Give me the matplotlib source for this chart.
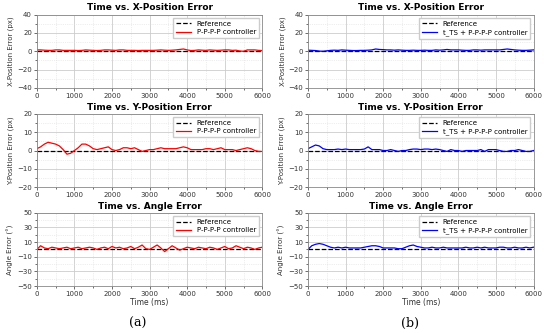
import numpy as np
import matplotlib.pyplot as plt
from matplotlib.ticker import MultipleLocator, AutoMinorLocator

# time axis (ms)
time_ms = np.arange(0, 6001, 100)

# (a) P-P-P-P controller
ppp_x = [1.5, 1.5, 1.2, 1.0, 1.0, 1.5, 1.5, 1.0, 1.0, 1.0,
         1.0, 0.8, 1.0, 1.5, 1.2, 1.0, 0.8, 1.0, 1.5, 1.5,
         1.2, 1.0, 1.5, 1.5, 1.0, 1.0, 1.0, 0.8, 1.0, 1.0,
         1.0, 1.0, 1.2, 1.5, 1.2, 1.0, 1.2, 1.5, 2.0, 2.5,
         1.5, 0.8, 1.0, 1.5, 1.2, 1.0, 1.5, 1.2, 1.0, 1.2,
         1.5, 1.5, 1.0, 1.2, 0.3, 0.0, 1.5, 1.5, 1.5, 1.0,
         0.8]
ppp_y = [1.0, 2.0, 3.5, 4.5, 4.0, 3.5, 2.5, 0.5, -2.0, -1.5,
         0.0, 1.5, 3.5, 3.5, 2.5, 1.0, 0.5, 1.0, 1.5, 2.0,
         0.5, 0.0, 0.5, 1.5, 1.5, 1.0, 1.5, 0.5, -0.5, 0.0,
         0.5, 0.5, 1.0, 1.5, 1.0, 1.0, 1.0, 1.0, 1.5, 2.0,
         1.5, 0.5, 0.5, 0.5, 0.5, 1.0, 1.0, 0.5, 1.0, 1.5,
         0.5, 0.5, 0.5, 0.0, 0.5, 1.0, 1.5, 1.0, 0.0, -0.5,
         -0.5]
ppp_ang = [0, 5, 2, 1, 3, 2, 1, 2, 3, 1,
           2, 3, 1, 2, 3, 2, 0, 2, 3, 1,
           4, 2, 3, 1, 2, 4, 1, 3, 6, 1,
           0, 3, 6, 2, -3, 1, 5, 2, -1, 1,
           3, 2, 1, 3, 2, 1, 3, 2, 0, 2,
           4, 1, 2, 5, 3, 1, 3, 2, 0, 2,
           3]

# (b) t_TS + P-P-P-P controller
tts_x = [1.2, 1.0, 0.8, 0.2, 0.0, 0.5, 1.0, 1.2, 1.0, 1.5,
         1.2, 1.0, 0.8, 0.8, 1.0, 1.0, 1.2, 1.5, 2.5, 2.0,
         1.8, 1.5, 1.5, 1.2, 1.5, 1.2, 1.0, 1.0, 1.2, 1.0,
         1.0, 1.2, 1.0, 1.0, 1.5, 1.2, 1.5, 2.0, 1.5, 1.5,
         1.5, 1.2, 1.0, 1.0, 1.5, 1.5, 1.2, 1.5, 1.5, 1.5,
         1.5, 1.5, 2.0, 2.5, 2.0, 1.5, 1.2, 1.0, 1.0, 1.2,
         1.5]
tts_y = [1.0, 2.0, 3.0, 2.5, 1.0, 0.5, 0.5, 0.5, 0.8, 0.5,
         0.8, 0.5, 0.5, 0.5, 0.5, 0.8, 2.0, 0.5, 0.5, 0.5,
         0.0, 0.0, 0.5, 0.0, -0.5, 0.0, 0.0, 0.5, 0.8, 0.8,
         0.5, 0.8, 0.8, 0.5, 0.8, 0.5, 0.0, -0.5, 0.5, 0.0,
         0.0, -0.5, 0.0, 0.0, 0.0, 0.0, 0.5, -0.5, 0.5, 0.5,
         0.5, 0.0, -0.5, -0.5, 0.0, 0.0, 0.5, 0.0, -0.5, -0.5,
         0.0]
tts_ang = [0, 5, 7, 8, 7, 5, 3, 2, 3, 2,
           3, 2, 2, 2, 2, 3, 4, 5, 5, 4,
           2, 2, 2, 2, 1, 1, 3, 5, 6, 4,
           3, 2, 2, 3, 2, 2, 3, 2, 2, 2,
           2, 2, 3, 2, 2, 3, 2, 3, 2, 2,
           2, 3, 3, 2, 2, 3, 2, 2, 3, 2,
           3]

titles = ["Time vs. X-Position Error", "Time vs. Y-Position Error", "Time vs. Angle Error"]
ylabels = ["X-Position Error (px)", "Y-Position Error (px)", "Angle Error (°)"]
ylims = [(-40, 40), (-20, 20), (-50, 50)]
yticks = [[-40, -20, 0, 20, 40], [-20, -10, 0, 10, 20], [-50, -30, -10, 10, 30, 50]]

columns = [
    ([ppp_x, ppp_y, ppp_ang], "P-P-P-P controller", "red", 0.067),
    ([tts_x, tts_y, tts_ang], "t_TS + P-P-P-P controller", "blue", 0.56),
]
row_bottoms = [0.736, 0.438, 0.141]
ax_w, ax_h = 0.41, 0.220

fig = plt.figure(figsize=(5.5, 3.33), dpi=100)

for series, name, color, left in columns:
    for i in range(3):
        ax = fig.add_axes([left, row_bottoms[i], ax_w, ax_h])
        ax.plot([time_ms[0], time_ms[-1]], [0, 0], "k--", lw=0.9, label="Reference")
        ax.plot(time_ms, series[i], color=color, lw=0.9, label=name)
        ax.set_xlim(0, 6000)
        ax.set_ylim(*ylims[i])
        ax.set_yticks(yticks[i])
        ax.xaxis.set_major_locator(MultipleLocator(1000))
        ax.xaxis.set_minor_locator(AutoMinorLocator(2))
        ax.yaxis.set_minor_locator(AutoMinorLocator(2))
        ax.grid(which="major", color="#cccccc", lw=0.6)
        ax.grid(which="minor", color="#dddddd", lw=0.5, ls=":")
        ax.tick_params(labelsize=5, length=2, colors="#333333", width=0.5, pad=1.5)
        ax.tick_params(which="minor", length=1.2, width=0.4)
        for sp in ax.spines.values():
            sp.set_color("#888888")
            sp.set_linewidth(0.6)
        ax.set_title(titles[i], fontsize=6.5, fontweight="bold", pad=3)
        ax.set_ylabel(ylabels[i], fontsize=5, color="#333333", labelpad=2)
        if i == 2:
            ax.set_xlabel("Time (ms)", fontsize=5.5, color="#333333", labelpad=1)
        ax.legend(loc="upper right", fontsize=5, handlelength=2.2, borderpad=0.4,
                  labelspacing=0.3, framealpha=1, edgecolor="#cccccc", fancybox=False)

fig.text(0.25, 0.03, "(a)", fontsize=9, family="DejaVu Serif", ha="center", va="center")
fig.text(0.745, 0.03, "(b)", fontsize=9, family="DejaVu Serif", ha="center", va="center")

fig.savefig("out.png", dpi=100)
